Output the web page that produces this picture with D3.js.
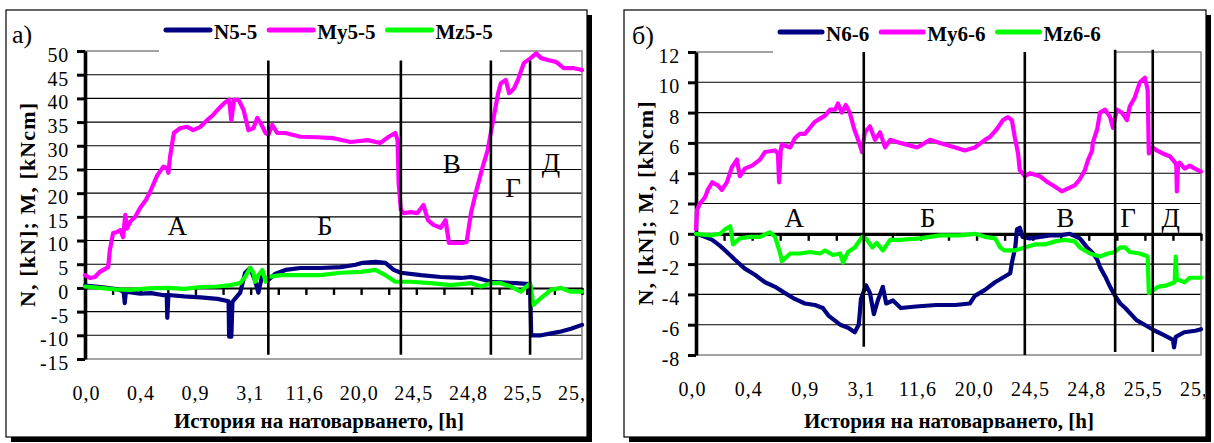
<!DOCTYPE html>
<html>
<head>
<meta charset="utf-8">
<script src="https://cdnjs.cloudflare.com/ajax/libs/d3/7.8.5/d3.min.js"></script>
<style>
  html, body { margin: 0; padding: 0; background: #fff; }
  svg { display: block; }
</style>
</head>
<body>
<svg id="chart" width="1214" height="443"></svg>
<script>
// ---- category labels of the loading history (hours), one every 100 records ----
const xLabels = ["0,0", "0,4", "0,9", "3,1", "11,6", "20,0", "24,5", "24,8", "25,5", "25,8"];
const recordCount = 900;
const regionNames = ["А", "Б", "В", "Г", "Д"];

// ---- section 5-5: [record, value] ----
const n55 = [[0,0.5],[20,0.3],[40,0],[60,-0.3],[70,-0.8],[72,-3.2],[74,-0.8],[100,-1.2],[120,-1.1],[140,-1.5],
  [148,-1.5],[149,-6.3],[151,-1.5],[180,-1.8],[209,-2],[240,-2.3],[260,-2.8],[261,-10.3],[265,-10.3],[267,-3],
  [270,-2.5],[281,-1],[290,3.2],[299,4.2],[308,1.5],[314,-1],[321,2.7],[332,1.7],[345,3],[363,3.8],[390,4.2],
  [426,4.2],[463,4.4],[490,4.9],[503,5.3],[526,5.5],[544,5.3],[559,3.8],[572,3.2],[608,2.7],[644,2.3],[681,2.1],
  [699,2.3],[717,1.9],[735,1.3],[780,1],[806,0.8],[808,-10],[826,-10],[844,-9.6],[862,-9.2],[880,-8.6],[900,-7.8]];
const my55 = [[0,2.7],[9,2.1],[18,2.3],[27,3.4],[42,4.4],[45,8],[51,11.6],[58,11.8],[64,12.2],[69,10.7],[73,15.4],
  [76,12.5],[82,14],[91,15],[100,16.9],[110,18.5],[118,20.3],[131,23.8],[142,25.6],[149,25.3],[151,24.3],[154,27.6],
  [158,30.6],[161,32.7],[172,33.7],[185,34],[196,33.3],[209,34],[221,35.4],[232,36.5],[245,38.2],[254,39.2],
  [261,39.7],[265,35.4],[270,39.7],[278,39.7],[287,37.6],[296,33.3],[305,33.7],[312,35.9],[318,34.8],[327,32.7],
  [332,32.3],[339,34.4],[348,32.7],[363,32.7],[390,31.9],[420,31.8],[450,31.6],[481,30.8],[512,31.2],[535,30.6],
  [550,31.9],[562,32.7],[566,31.2],[568,22],[572,16.5],[577,15.8],[590,16],[602,15.8],[613,17.5],[621,14.3],
  [631,13.3],[644,12.7],[653,14.3],[659,9.5],[668,9.5],[684,9.5],[691,9.7],[699,15.8],[709,20.7],[720,25.5],
  [729,29],[740,36],[748,41],[753,43.2],[762,43.9],[768,41.1],[777,42.1],[784,43.9],[789,45.6],[795,47.5],
  [807,48.5],[817,49.5],[826,48.5],[838,48.1],[853,47.7],[867,46.4],[884,46.4],[900,46]];
const mz55 = [[0,0.3],[27,0],[55,-0.3],[82,-0.4],[115,-0.1],[149,0],[180,-0.2],[209,0.2],[240,0.3],[263,0.6],
  [281,1],[290,2.3],[299,4.2],[305,3.2],[308,1.3],[314,2.7],[321,3.8],[327,1.3],[332,2.3],[354,2.7],[390,2.7],
  [426,2.7],[463,3.2],[499,3.4],[526,3.8],[544,2.7],[562,1.3],[590,1.3],[626,1],[662,0.6],[699,1],[717,0.3],
  [735,1],[753,1],[771,0.3],[789,-0.8],[806,1],[812,-3.6],[826,-2.1],[844,-0.4],[862,0],[880,-0.8],[900,-0.8]];

// ---- section 6-6: [record, value] ----
const n66 = [[0,0],[16,-0.2],[29,-0.4],[43,-0.8],[55,-1.2],[69,-1.7],[87,-2.3],[105,-2.7],[123,-3.2],[141,-3.5],
  [158,-3.9],[176,-4.3],[194,-4.6],[212,-4.7],[226,-4.9],[236,-5.4],[257,-6],[271,-6.2],[283,-6.5],[290,-6],
  [292,-5.2],[294,-4.3],[296,-4.1],[303,-3.4],[310,-3.9],[317,-5.3],[324,-4.4],[333,-3.5],[339,-4.6],[351,-4.4],
  [365,-4.9],[392,-4.8],[428,-4.7],[462,-4.7],[488,-4.6],[497,-4.1],[515,-3.7],[533,-3.2],[551,-2.8],[560,-2.6],
  [563,-1.9],[569,-0.9],[572,0.3],[577,0.4],[582,-0.2],[595,-0.3],[613,-0.2],[631,-0.1],[649,-0.1],[666,0],
  [684,-0.3],[697,-0.9],[708,-1.3],[715,-1.7],[720,-2.2],[729,-2.8],[738,-3.5],[747,-4.1],[756,-4.6],[765,-4.9],
  [785,-5.7],[804,-6.1],[818,-6.4],[835,-6.7],[850,-7],[852,-7.5],[855,-6.8],[870,-6.5],[890,-6.4],[900,-6.3]];
const my66 = [[0,0.3],[2,1.6],[7,2],[16,2.4],[21,2.9],[29,3.4],[39,3.2],[46,2.9],[55,3.4],[64,4.4],[73,4.9],
  [78,3.8],[87,4.3],[100,4.5],[114,4.9],[123,5.4],[141,5.5],[146,5.3],[148,3.4],[151,5.5],[153,5.9],[168,5.7],
  [176,6.3],[185,6.6],[194,6.6],[203,7],[212,7.4],[221,7.6],[230,7.8],[239,8.2],[248,8.2],[253,8.6],[260,8],
  [267,8.5],[274,8],[282,6.9],[289,6.2],[296,5.4],[301,6.7],[310,7.1],[319,6.2],[328,6.7],[337,5.7],[346,6.2],
  [364,6],[394,5.7],[417,6.2],[435,6],[462,5.7],[479,5.5],[497,5.7],[515,6.2],[524,6.4],[536,6.9],[547,7.5],
  [556,7.7],[563,7.5],[568,6.4],[574,5.3],[577,4.2],[586,3.8],[595,4],[613,3.8],[627,3.4],[640,3.1],[652,2.8],
  [663,3],[675,3.2],[684,3.6],[693,4.2],[699,4.9],[706,5.5],[707,6],[715,6.9],[720,8],[729,8.2],[738,7.7],
  [743,7],[750,8.2],[759,8],[768,7.5],[773,8.4],[782,9],[791,10],[800,10.3],[805,9.5],[807,5.3],[814,5.7],
  [821,5.5],[832,5.3],[845,5.1],[854,4.7],[856,4.5],[857,2.8],[859,4.5],[862,4.7],[871,4.3],[880,4.5],[889,4.3],[900,4.1]];
const mz66 = [[0,0],[25,-0.1],[43,0],[52,0.3],[61,0.5],[66,-0.7],[78,-0.3],[96,-0.2],[114,-0.2],[132,0.1],
  [141,-0.2],[150,-1.3],[153,-1.8],[168,-1.3],[185,-1.3],[203,-1.2],[221,-1.3],[230,-1.1],[244,-1.4],[257,-1.3],
  [262,-1.9],[271,-1.2],[283,-0.9],[296,-0.2],[303,-0.3],[314,-0.9],[322,-0.6],[333,-1.1],[346,-0.4],[364,-0.4],
  [399,-0.3],[435,-0.1],[470,-0.1],[497,0],[515,-0.2],[533,-0.3],[542,-0.9],[550,-1.1],[568,-1.1],[586,-0.9],
  [604,-0.7],[622,-0.7],[640,-0.5],[658,-0.4],[675,-0.5],[684,-0.9],[702,-1.3],[720,-1.5],[734,-1.3],[747,-1.2],
  [756,-0.9],[765,-0.9],[773,-1.2],[791,-1.3],[805,-1.5],[807,-3.9],[816,-3.7],[823,-3.5],[839,-3.4],[853,-3.2],
  [855,-1.5],[857,-3],[871,-3.2],[880,-2.9],[900,-2.9]];

// stage boundaries (record numbers)
const stagesA = [332, 572, 735, 806];
const stagesB = [299, 586, 747, 814];

const NAVY = "#000080", MAGENTA = "#ff00ff", GREEN = "#00ff00";
const SERIF = '"Liberation Serif", "Times New Roman", serif';

const panels = [
  {
    id: "a", box: {x: 6, y: 10, w: 581, h: 427},
    plot: {l: 85, r: 582, t: 51, b: 359}, labelRange: [86, 577],
    yDomain: [-15, 50], yStep: 5, axisWidth: 2,
    tag: "а)", tagX: 12, tagY: 43,
    legendMask: [159, 500], legendX: 166, legendY: 30, legendLine: 44,
    series: [{name: "N5-5", data: n55, color: NAVY},
             {name: "My5-5", data: my55, color: MAGENTA},
             {name: "Mz5-5", data: mz55, color: GREEN}],
    stages: stagesA, stageTop: [48, 48, 48, 48], stageBottom: [-14.1, -14.1, -14.1, -14.1],
    regionX: [167, 434, 664, 775, 844], regionY: [11.2, 11.2, 24.3, 19.2, 24.5],
    yTitleX: 35, xTitleX: 319
  },
  {
    id: "b", box: {x: 624, y: 10, w: 582, h: 427},
    plot: {l: 696, r: 1201, t: 52, b: 355}, labelRange: [692, 1199],
    yDomain: [-8, 12], yStep: 2, axisWidth: 3.2,
    tag: "б)", tagX: 632, tagY: 44,
    legendMask: [773, 1115], legendX: 780, legendY: 32, legendLine: 42,
    series: [{name: "N6-6", data: n66, color: NAVY},
             {name: "My6-6", data: my66, color: MAGENTA},
             {name: "Mz6-6", data: mz66, color: GREEN}],
    stages: stagesB, stageTop: [12, 12, 12.15, 12.15], stageBottom: [-7.45, -8, -7.8, -7.8],
    regionX: [175, 413, 658, 770, 846], regionY: [0.46, 0.46, 0.46, 0.46, 0.46],
    yTitleX: 653, xTitleX: 949
  }
];

const svg = d3.select("#chart");
const defs = svg.append("defs");

panels.forEach(p => {
  const B = p.box, P = p.plot;
  // drop shadow and frame of the panel
  svg.append("rect").attr("x", B.x + 5).attr("y", B.y + 5).attr("width", B.w).attr("height", B.h).attr("fill", "#000");
  svg.append("rect").attr("x", B.x).attr("y", B.y).attr("width", B.w).attr("height", B.h)
    .attr("fill", "#fff").attr("stroke", "#000").attr("stroke-width", 1.2);

  defs.append("clipPath").attr("id", "clip-" + p.id)
    .append("rect").attr("x", B.x + 1).attr("y", B.y + 1).attr("width", B.w - 2).attr("height", B.h - 2);
  const g = svg.append("g").attr("clip-path", `url(#clip-${p.id})`);

  const x = d3.scaleLinear().domain([0, recordCount]).range([P.l, P.r]);
  const y = d3.scaleLinear().domain(p.yDomain).range([P.b, P.t]);
  const xCat = d3.scalePoint().domain(xLabels).range(p.labelRange);
  const yTicks = d3.range(p.yDomain[0], p.yDomain[1] + 1e-9, p.yStep);

  // horizontal grid
  g.append("g").selectAll("line")
    .data(yTicks.filter(v => v !== 0 && v !== p.yDomain[0] && v !== p.yDomain[1]))
    .join("line")
    .attr("x1", P.l).attr("x2", P.r).attr("y1", d => y(d)).attr("y2", d => y(d))
    .attr("stroke", "#000").attr("stroke-width", 1.1);

  // plot area border
  g.append("rect").attr("x", P.l).attr("y", P.t).attr("width", P.r - P.l).attr("height", P.b - P.t)
    .attr("fill", "none").attr("stroke", "#8c8c8c").attr("stroke-width", 1.6);

  // white legend panel over the top of the plot area
  g.append("rect").attr("x", p.legendMask[0]).attr("y", B.y + 1)
    .attr("width", p.legendMask[1] - p.legendMask[0]).attr("height", P.t + 1.5 - B.y).attr("fill", "#fff");

  // category axis crossing at zero: minor tick marks
  const xAxis = d3.axisBottom(x).tickValues(d3.range(0, recordCount + 1, 50))
    .tickSize(7).tickSizeOuter(0).tickFormat("");
  const xa = g.append("g").attr("transform", `translate(0,${y(0)})`).call(xAxis);
  xa.select(".domain").attr("stroke", "#000").attr("stroke-width", p.axisWidth);
  xa.selectAll(".tick line").attr("stroke", "#000").attr("stroke-width", 2.4);

  // category labels below the plot
  const xLab = d3.axisBottom(xCat).tickSize(0).tickPadding(0);
  const xl = g.append("g").attr("transform", `translate(0,${P.b})`).call(xLab);
  xl.select(".domain").remove();
  xl.selectAll("text").attr("font-size", 20)
    .attr("fill", "#000").attr("y", 41).attr("dy", 0).attr("letter-spacing", 1);

  // value axis
  const yAxis = d3.axisLeft(y).tickValues(yTicks).tickSize(8).tickSizeOuter(0).tickPadding(8)
    .tickFormat(d => String(d));
  const ya = g.append("g").attr("transform", `translate(${P.l},0)`).call(yAxis);
  ya.select(".domain").attr("stroke", "#000").attr("stroke-width", 3.6);
  ya.selectAll(".tick line").attr("stroke", "#000").attr("stroke-width", 3);
  ya.selectAll("text").attr("font-size", 20)
    .attr("fill", "#000").attr("dy", "0.52em").attr("letter-spacing", 0.8);

  // measured series
  const line = d3.line().x(d => x(d[0])).y(d => y(d[1]));
  p.series.forEach(s => {
    g.append("path").datum(s.data).attr("d", line)
      .attr("fill", "none").attr("stroke", s.color).attr("stroke-width", 4.2)
      .attr("stroke-linejoin", "round").attr("stroke-linecap", "round");
  });

  // stage boundaries
  g.append("g").selectAll("line").data(p.stages).join("line")
    .attr("x1", d => x(d)).attr("x2", d => x(d))
    .attr("y1", (d, i) => y(p.stageTop[i])).attr("y2", (d, i) => y(p.stageBottom[i]))
    .attr("stroke", "#000").attr("stroke-width", 2.6);

  // stage names
  g.append("g").selectAll("text").data(regionNames).join("text")
    .attr("x", (d, i) => x(p.regionX[i])).attr("y", (d, i) => y(p.regionY[i]))
    .attr("text-anchor", "middle").attr("font-size", 27).attr("fill", "#000").text(d => d);

  // legend
  let lx = p.legendX;
  p.series.forEach(s => {
    g.append("line").attr("x1", lx).attr("x2", lx + p.legendLine)
      .attr("y1", p.legendY).attr("y2", p.legendY)
      .attr("stroke", s.color).attr("stroke-width", 5).attr("stroke-linecap", "round");
    const t = g.append("text").attr("x", lx + p.legendLine + 4).attr("y", p.legendY + 9)
      .style("font-family", SERIF)
      .attr("font-size", 21).attr("font-weight", "bold").attr("fill", "#000").text(s.name);
    lx += p.legendLine + 4 + t.node().getComputedTextLength() + 12;
  });

  // panel tag
  g.append("text").attr("x", p.tagX).attr("y", p.tagY).attr("font-size", 26).attr("fill", "#000").text(p.tag);

  // axis titles
  g.append("text")
    .attr("transform", `translate(${p.yTitleX},${(P.t + P.b) / 2}) rotate(-90)`)
    .attr("text-anchor", "middle").attr("font-size", 22).attr("font-weight", "bold")
    .attr("textLength", 204).attr("lengthAdjust", "spacing")
    .attr("fill", "#000").text("N, [kN]; M, [kNcm]");
  g.append("text").attr("x", p.xTitleX).attr("y", 428)
    .attr("text-anchor", "middle").attr("font-size", 21).attr("font-weight", "bold")
    .attr("fill", "#000").text("История на натоварването, [h]");

  // every text in the panel is set in the serif face
  g.selectAll("text").style("font-family", SERIF);
});
</script>
</body>
</html>
